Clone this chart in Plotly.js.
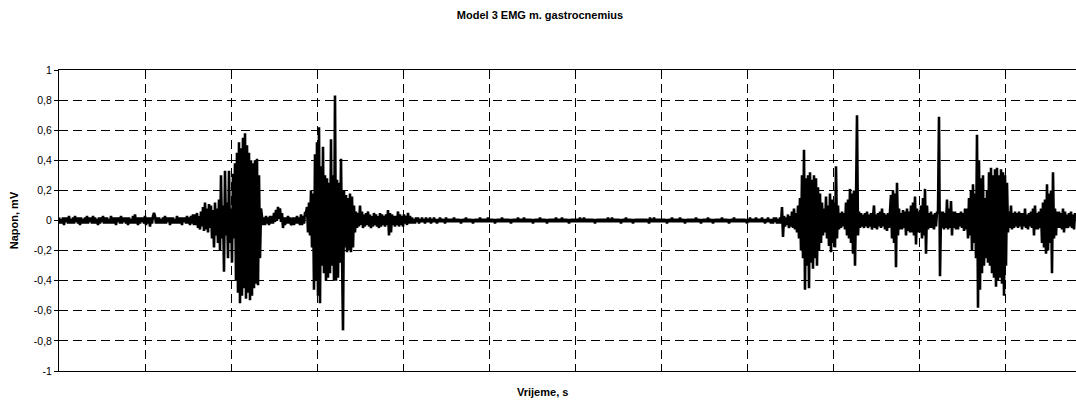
<!DOCTYPE html>
<html><head><meta charset="utf-8">
<script src="https://cdn.plot.ly/plotly-3.0.1.min.js"></script>
<style>html,body{margin:0;padding:0;background:#fff}#chart{width:1076px;height:405px}</style>
</head><body><div id="chart"></div>
<script>
// EMG samples, in hundredths of a millivolt, one sample per time step
const baseline1 = [2,-2,1,-2,2,-3,2,-1,2,-2, 3,-2,1,-2,2,-2,3,-1,2,-2, 2,-3,2,-2,1,-2,2,-2,3,-2,
  2,-1,2,-2,3,-2,2,-2,1,-3, 2,-2,2,-1,3,-2,2,-2,2,-2, 1,-2,3,-2,2,-2,2,-3,2,-1,
  2,-2,3,-2,2,-1,2,-2,2,-3, 2,-2,1,-2,3,-2,4,-2,2,-3, 2,-2,2,-1,2,-2,3,-3,2,-2,
  2,-4,2,-2,3,5,3,-2,2,-2, 2,-2,1,-2,2,-2,3,-2,2,-1, 2,-3,2,-2,2,-2,1,-2,3,-2,
  2,-2,2,-3,2,-1,2,-2,3,-2, 2,-3,3,-2,4,-3];
const burst1 = [4,-3,5,-5,3,-6,6,-4, 9,-7,12,-6,8,-8,11,-5, 10,-12,7,-18,12,-10,8,-15,
  14,-20,30,-12,10,-34,33,-10, 12,-25,33,-15,8,-28,31,-12, 38,-40,45,-48,52,-55,48,-50,
  55,-45,58,-52,50,-48,45,-53, 40,-50,38,-45,40,-42,41,-43, 30,-25,8];
const between = [4,-3,2,-3,3,-2,2,-3,3,-2, 3,-2,5,-1,7,0,9,1,8,-1, 5,-5,2,-3,2,-2,3,-2,2,-3,
  -2,2,-3,2,-2,3,-2,2,-3,4, -3,3,-2,5];
const burst2 = [5,9,-8,12,-10,20,-18,18,-46,44, -40,52,-50,62,-55,36,-30,49,-35,30,
  -40,28,-38,25,-35,54,-30,30,-40,83, -40,27,-38,25,-28,41,-20,-73,20,-18,
  17,-21,15,-20,18,-21,16,-18,10,-8, 6,-5];
const tail2 = [5,-4,10,-3,6,-5,4,-4,5,-3, 6,-4,4,-5,3,-4,5,-3,4,-4, 3,-5,5,-4,4,-3,3,-4,4,-3,
  7,-10,5,-8,4,-3,3,-4,3,-3, 6,-4,4,-3,3,-4,4,-2,3,-3, 5,-2,3,-2];
const quiet = [2,-2,1,-2,2,-1,2,-2,1,-1, 2,-1,1,-2,2,-1,1,-1,2,-2, 1,-1,2,-1,1,-2,1,-1,2,-1,
  1,-1,1,-2,2,-1,1,-1,1,-1, 1,-1,2,-1,1,-1,1,-1,1,-2, 1,-1,1,-1,2,-1,1,-1,1,-1,
  1,-2,1,-1,1,-1,1,-1,2,-1, 1,-1,1,-1,1,-1,2,-1,1,-1, 1,-1,1,-2,1,-1,1,-1,1,-1,
  2,-1,1,-1,1,-1,1,-1,1,-2, 1,-1,1,-1,1,-1,2,-1,1,-1, 1,-1,2,-1,1,-1,1,-1,1,-1,
  1,-2,1,-1,1,-1,1,-1,2,-1, 1,-1,1,-1,1,-2,1,-1,1,-1, 1,-1,1,-1,2,-1,1,-1,1,-1,
  2,-1,1,-1,1,-1,1,-2,1,-1, 1,-1,1,-1,1,-1,1,-1,2,-1, 1,-1,2,-1,1,-1,1,-1,1,-1,
  1,-1,1,-2,1,-1,1,-1,1,-1, 1,-1,1,-1,1,-1,2,-1,1,-1, 2,-1,1,-1,1,-1,1,-1,1,-2,
  1,-1,1,-1,2,-1,1,-1,1,-1, 1,-2,1,-1,1,-1,1,-1,1,-1, 1,-1,1,-1,1,-1,1,-2,2,-1,
  1,-1,2,-1,1,-1,1,-1,1,-1, 1,-1,1,-1,1,-2,1,-1,1,-1, 2,-1,1,-1,1,-1,1,-1,2,-1,
  1,-1,1,-2,1,-1,1,-1,1,-1, 1,-1,1,-1,2,-1,1,-1,1,-2, 1,-1,1,-1,1,-1,2,-1,1,-1,
  1,-2,1,-1,1,-1,1,-1,1,-1, 2,-1,1,-1,1,-1,1,-2,1,-1, 1,-1,2,-1,1,-1,1,-1,1,-1,
  1,-1,1,-1,1,-2,1,-1,2,-1, 1,-1,1,-1,2,-1,1,-1,1,-1, 2,-1,1,-2,1,-1,2,-1,1,-2,
  1,-2,2,-1,2,-2,1,-2,2,-2];
const burst3 = [9,-11,3,-4,2,-3,4,-5,3,-4, 6,-5,8,-6,5,-8,10,-12,15,-20, 30,-25,47,-46,28,-30,30,-45,32,-28,
  27,-32,30,-25,28,-30,22,-20,18,-15, 12,-10,8,-8,16,-12,10,-17,18,-21, 14,-15,12,-18,36,-12,10,-6,5,-5,
  6,-4,5,-6,12,-10,14,-12,21,-15, 18,-22,20,-30,12,70,-10,6];
const mid3 = [-5,5,-4,4,-5,5,-4,6,-5,4, -4,5,-6,4,10,-5,4,-6,5,-4, 6,-5,8,-4,5,-6,4,-7,5,-5,
  12,17,-12,20,-15,18,-31,25,-10,8, -6,5,-6,7,-5,6,-10,8,-7,6, -8,10,-8,12,-10,16,-16,8,-8,6,
  -8,10,-12,15,-10,21,-22,10,-6,5, -5,6,-5,4,-6,5,-4,6];
const burst4 = [5,69,-37,6,-5,6,-6,5,-5,14, -6,8,-5,13,-10,6,-5,6,-6,5, -6,5,-4,6,-5,5,-7,8,-6,8,
  -12,15,-10,20,-20,24,-15,18,-25,57, -58,40,-46,28,-35,30,-30,15,-25,20,
  -28,32,-30,35,-35,30,-38,34,-44,35, -40,30,-38,34,-42,32,-50,30,-30,25];
const tail4 = [-8,6,-5,10,-6,5,-5,6,-4,5, -5,6,-4,5,-6,5,-4,8,-5,4, -6,5,-4,6,-5,8,-10,10,-6,5,
  -6,6,-5,8,-15,12,-18,14,-22,24, -20,18,-15,20,-35,32,-12,8,-10,6, -5,6,-5,5,-6,8,-8,6,-5,4,
  -5,5,-4,6,-5,4,-6,5];

const yTickVals = [-1,-0.8,-0.6,-0.4,-0.2,0,0.2,0.4,0.6,0.8,1];
const yTickText = ['-1','-0,8','-0,6','-0,4','-0,2','0','0,2','0,4','0,6','0,8','1'];

const samples = [].concat(baseline1, burst1, between, burst2, tail2, quiet, burst3, mid3, burst4, tail4);
const STEP = 1/86;          // time per sample, in grid divisions
const xs = samples.map((_, i) => i * STEP);
const ys = samples.map(v => v / 100);

const FONT = '"Liberation Sans", Arial, Helvetica, sans-serif';
const trace = {x: xs, y: ys, type: 'scatter', mode: 'lines', line: {color: '#000', width: 2.6}, hoverinfo: 'skip'};

const layout = {
  width: 1076, height: 405,
  margin: {l: 59, r: 0, t: 70, b: 34, pad: 0},
  paper_bgcolor: '#fff', plot_bgcolor: '#fff',
  font: {family: FONT, color: '#000', size: 10},
  showlegend: false,
  title: {text: 'Model 3 EMG m. gastrocnemius', font: {family: FONT, size: 11, weight: 'bold', color: '#000'},
          x: 540/1076, xanchor: 'center', xref: 'container', y: 1 - 15/405, yanchor: 'middle', yref: 'container'},
  xaxis: {range: [0, 1017/86], tick0: 0, dtick: 1, showgrid: true, gridcolor: '#000', gridwidth: 1, griddash: '9px,5px',
          showticklabels: false, ticks: '', showline: true, linecolor: '#000', linewidth: 1, mirror: true,
          zeroline: false, fixedrange: true, automargin: false},
  yaxis: {range: [-1, 1], tickmode: 'array', tickvals: yTickVals, ticktext: yTickText, ticks: 'outside', ticklen: 4,
          tickcolor: '#000', tickwidth: 1, tickfont: {family: FONT, size: 10.5, color: '#000'},
          showgrid: true, gridcolor: '#000', gridwidth: 1, griddash: '9px,5px',
          showline: true, linecolor: '#000', linewidth: 1, zeroline: false, fixedrange: true, automargin: false,
          title: {text: 'Napon, mV', font: {family: FONT, size: 11, weight: 'bold', color: '#000'}, standoff: 12}},
  annotations: [{text: 'Vrijeme, s', xref: 'paper', yref: 'paper', x: (542 - 59) / 1017, y: -(392 - 371) / 301,
                 xanchor: 'center', yanchor: 'middle', showarrow: false,
                 font: {family: FONT, size: 11, weight: 'bold', color: '#000'}}]
};

Plotly.newPlot('chart', [trace], layout, {staticPlot: true, displayModeBar: false});
</script>
</body></html>
